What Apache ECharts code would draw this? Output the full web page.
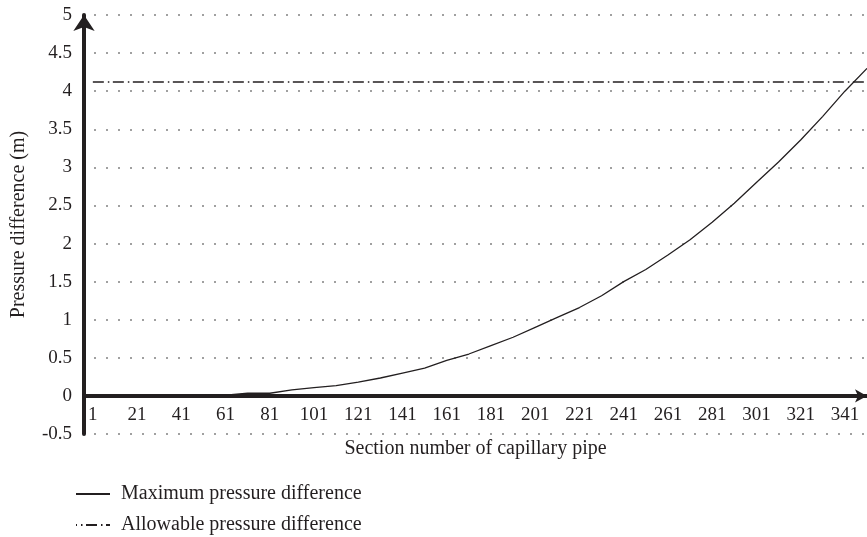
<!DOCTYPE html>
<html>
<head>
<meta charset="utf-8">
<script src="https://cdn.jsdelivr.net/npm/echarts@6/dist/echarts.min.js"></script>
<style>html,body{margin:0;padding:0;background:#fff}#c{width:867px;height:537px}</style>
</head>
<body>
<div id="c"></div>
<script>
// Data
var sections = [1, 11, 21, 31, 41, 51, 61, 71, 81, 91, 101, 111, 121, 131, 141, 151, 161, 171, 181, 191, 201, 211, 221, 231, 241, 251, 261, 271, 281, 291, 301, 311, 321, 331, 341, 351];
var maxPressure = [0, 0, 0, 0, 0, 0.005, 0.01, 0.035, 0.035, 0.08, 0.11, 0.135, 0.18, 0.235, 0.3, 0.365, 0.465, 0.55, 0.66, 0.77, 0.9, 1.03, 1.16, 1.315, 1.5, 1.66, 1.85, 2.05, 2.28, 2.53, 2.8, 3.07, 3.36, 3.67, 4.0, 4.3];
var allowableSections = [1, 351];
var allowableValue = 4.12;
var xTickLabels = [1, 21, 41, 61, 81, 101, 121, 141, 161, 181, 201, 221, 241, 261, 281, 301, 321, 341];
var yTicks = [-0.5, 0, 0.5, 1, 1.5, 2, 2.5, 3, 3.5, 4, 4.5, 5];
var seriesNames = ['Maximum pressure difference', 'Allowable pressure difference'];
var xName = 'Section number of capillary pipe';
var yName = 'Pressure difference (m)';

var ink = '#231f20';
var font = 'Liberation Serif';

var chart = echarts.init(document.getElementById('c'), null, {renderer: 'canvas'});
chart.setOption({
  animation: false,
  backgroundColor: '#fff',
  grid: {left: 84, right: 0, top: 15, bottom: 103, containLabel: false},
  legend: {
    orient: 'vertical',
    left: 75,
    top: 484,
    height: 120,
    padding: 0,
    itemWidth: 34,
    itemHeight: 20,
    itemGap: 11,
    itemStyle: {opacity: 0},
    textStyle: {fontFamily: font, fontSize: 20, color: ink, padding: [0, 0, 0, 6]},
    data: seriesNames
  },
  xAxis: {
    type: 'value',
    min: -3,
    max: 351,
    name: xName,
    nameLocation: 'middle',
    nameGap: 5,
    nameTextStyle: {fontFamily: font, fontSize: 20, color: ink, verticalAlign: 'top'},
    axisLine: {show: true, onZero: true, symbol: ['none', 'arrow'], symbolSize: [10, 12], lineStyle: {color: ink, width: 4}},
    axisTick: {show: false},
    splitLine: {show: false},
    axisLabel: {
      customValues: xTickLabels,
      margin: -28,
      fontFamily: font, fontSize: 19, color: ink
    }
  },
  yAxis: {
    type: 'value',
    min: -0.5,
    max: 5,
    interval: 0.5,
    name: yName,
    nameLocation: 'middle',
    nameGap: 55,
    nameTextStyle: {fontFamily: font, fontSize: 20, color: ink},
    axisLine: {show: true, onZero: false, symbol: ['none', 'arrow'], symbolSize: [16, 16], symbolOffset: [0, 0], lineStyle: {color: ink, width: 4}},
    axisTick: {show: false},
    axisLabel: {
      customValues: yTicks,
      margin: 12,
      fontFamily: font, fontSize: 19, color: ink
    },
    splitLine: {show: true, lineStyle: {color: '#a0a0a0', width: 2, type: [2, 10], dashOffset: -10}}
  },
  series: [
    {
      name: seriesNames[0],
      type: 'line',
      symbol: 'none',
      data: sections.map(function (s, i) { return [s, maxPressure[i]]; }),
      lineStyle: {color: ink, width: 1.3},
      itemStyle: {color: ink},
      z: 3
    },
    {
      name: seriesNames[1],
      type: 'line',
      symbol: 'none',
      data: allowableSections.map(function (s) { return [s, allowableValue]; }),
      lineStyle: {color: ink, width: 1.5, type: [11, 4, 1.5, 3.5]},
      itemStyle: {color: ink},
      z: 3
    }
  ]
});
</script>
</body>
</html>
